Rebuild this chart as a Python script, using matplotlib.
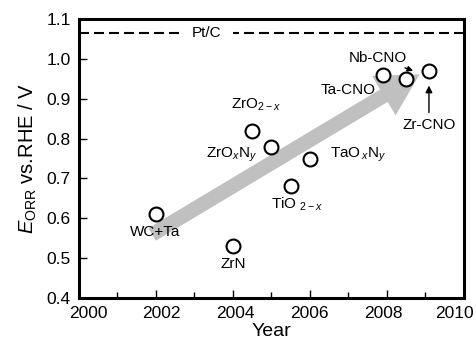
import matplotlib
matplotlib.use("Agg")
import matplotlib.pyplot as plt
import matplotlib.transforms as mtransforms
from matplotlib.patches import FancyArrowPatch

plt.rcParams['font.family'] = ['Liberation Sans', 'DejaVu Sans']
plt.rcParams['mathtext.fontset'] = 'custom'
plt.rcParams['mathtext.rm'] = 'Liberation Sans'
plt.rcParams['mathtext.it'] = 'Liberation Sans:italic'

# catalyst data (year, onset potential)
names = ['WC+Ta', 'ZrN', 'ZrO2-x', 'ZrOxNy', 'TiO2-x', 'TaOxNy', 'Ta-CNO', 'Nb-CNO', 'Zr-CNO']
years = [2002.0, 2004.0, 2004.5, 2005.0, 2005.5, 2006.0, 2007.9, 2008.5, 2009.1]
e_orr = [0.61, 0.53, 0.82, 0.78, 0.68, 0.75, 0.96, 0.95, 0.97]
pt_c = 1.065

x_ticks = [2000, 2002, 2004, 2006, 2008, 2010]
y_ticks = [0.4, 0.5, 0.6, 0.7, 0.8, 0.9, 1.0, 1.1]

fig = plt.figure(figsize=(4.77, 3.52), dpi=100)
ax = fig.add_axes([0.1656, 0.1534, 0.8071, 0.7926])

# big grey trend arrow
arr = FancyArrowPatch((2001.84, 0.556), (2008.91, 0.965),
                      arrowstyle='simple,head_length=3.0,head_width=3.3,tail_width=1.05',
                      mutation_scale=10, color='#c0c0c0', lw=0, zorder=1)
ax.add_patch(arr)

ax.plot(years, e_orr, 'o', ms=10, mfc='white', mec='black', mew=1.5, zorder=3, ls='none')

ax.axhline(pt_c, color='black', ls=(0, (4.8, 2.4)), lw=1.5, zorder=2)
ax.text(2003.32, pt_c, 'Pt/C', fontsize=11, ha='center', va='center', zorder=2.2,
        bbox=dict(fc='white', ec='none', pad=8))

fs = 11
ax.text(2001.99, 0.566, 'WC+Ta', fontsize=fs, ha='center', va='center')
ax.text(2004.0, 0.486, 'ZrN', fontsize=fs, ha='center', va='center')
ax.text(2004.6, 0.884, r'ZrO$_{\mathregular{2-}x}$', fontsize=fs, ha='center', va='center')
ax.text(2003.97, 0.759, r'ZrO$_x$N$_y$', fontsize=fs, ha='center', va='center')
ax.text(2005.66, 0.634, r'TiO $_{\mathregular{2-}x}$', fontsize=fs, ha='center', va='center')
ax.text(2007.25, 0.759, r'TaO$\,_x$N$_y$', fontsize=fs, ha='center', va='center')
ax.text(2006.99, 0.922, 'Ta-CNO', fontsize=fs, ha='center', va='center')
ax.annotate('Nb-CNO', xy=(2008.68, 0.970), xytext=(2007.77, 1.002), fontsize=fs,
            ha='center', va='center',
            arrowprops=dict(arrowstyle='-|>', color='black', lw=1, shrinkA=0, shrinkB=0,
                            mutation_scale=8),
            zorder=4)
ax.annotate('Zr-CNO', xy=(2009.09, 0.933), xytext=(2009.09, 0.834), fontsize=fs,
            ha='center', va='center',
            arrowprops=dict(arrowstyle='-|>', color='black', lw=1, shrinkA=2, shrinkB=0,
                            mutation_scale=10, relpos=(0.5, 1.0)),
            zorder=4)

ax.set_xlim(2000, 2010)
ax.set_ylim(0.4, 1.1)
ax.set_xticks(x_ticks)
ax.set_xticks([2001, 2003, 2005, 2007, 2009], minor=True)
ax.set_yticks(y_ticks)
ax.set_yticklabels(['%.1f' % v for v in y_ticks])
ax.tick_params(direction='in', which='major', length=6, width=1, labelsize=12.5, pad=6)
ax.tick_params(direction='in', which='minor', length=4, width=1)
for s in ax.spines.values():
    s.set_linewidth(2.2)

# year labels sit slightly squeezed together in the original
shifts = [9, 5, 2, -1, -4, -9.5]
for lab, dx in zip(ax.get_xticklabels(), shifts):
    lab.set_transform(lab.get_transform() + mtransforms.ScaledTranslation(dx / 100, 0, fig.dpi_scale_trans))

ax.set_xlabel('Year', fontsize=14, labelpad=1)
ax.set_ylabel(r'$E_{\mathrm{ORR}}$ vs.RHE / V', fontsize=14.5, labelpad=5)

fig.savefig('out.png', dpi=100)
